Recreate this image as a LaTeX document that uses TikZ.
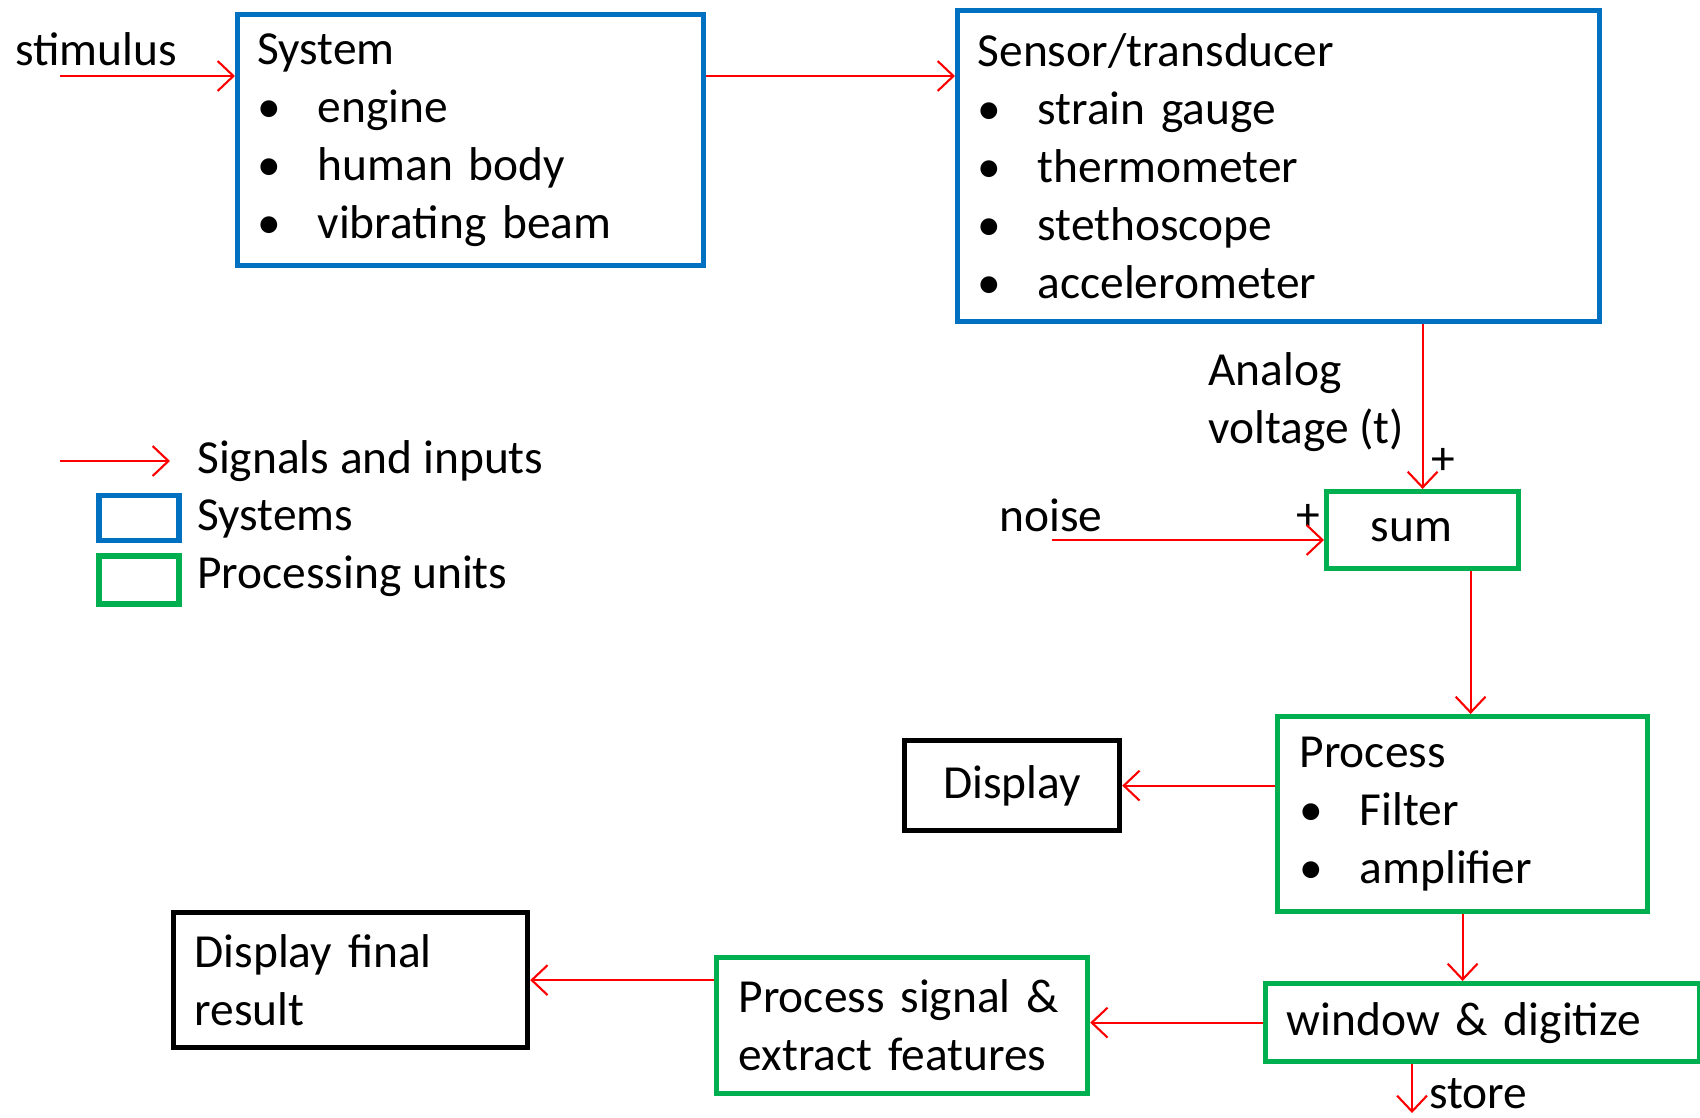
\documentclass[tikz,border=0pt]{standalone}
\usepackage{fontspec}
\setmainfont{Carlito}
\usepackage{xcolor}
\usetikzlibrary{arrows.meta}

\definecolor{sysblue}{RGB}{0,112,192}
\definecolor{procgreen}{RGB}{0,176,80}
\newcommand{\itm}[1]{\makebox[1.2cm][l]{\textbullet}#1}

\tikzset{
  sig/.style={red, line width=1.2pt, -{Straight Barb[length=9pt,width=17pt,line width=1.2pt]}},
  box/.style={line width=3pt, anchor=north west, align=left, inner xsep=0.4cm, inner ysep=0pt},
  sys/.style={box, draw=sysblue},
  proc/.style={box, draw=procgreen},
  outbox/.style={box, draw=black},
  word/.style={anchor=west, inner sep=0pt, align=left}
}

\begin{document}
\begin{tikzpicture}[x=0.02cm, y=-0.02cm, font=\fontsize{27}{33}\selectfont]
  \useasboundingbox (0,0) rectangle (1700,1118);
  % Systems
  \node[sys, minimum width=9.32cm, minimum height=5.02cm, text width=8.52cm] (system) at (235,12)
    {System\\ \itm{engine}\\ \itm{human body}\\ \itm{vibrating beam}};
  \node[sys, minimum width=12.84cm, minimum height=6.22cm, text width=12.04cm] (sensor) at (955,8)
    {Sensor/transducer\\ \itm{strain gauge}\\ \itm{thermometer}\\ \itm{stethoscope}\\ \itm{accelerometer}};
  % Processing units
  \node[proc, minimum width=3.84cm, minimum height=1.54cm, text width=2.08cm, inner xsep=0.88cm] (sum) at (1324,489) {sum};
  \node[proc, minimum width=7.4cm, minimum height=3.9cm, text width=6.52cm, inner xsep=0.44cm] (process) at (1275,714)
    {Process\\ \itm{Filter}\\ \itm{amplifier}};
  \node[proc, minimum width=8.68cm, minimum height=1.56cm, text width=7.84cm, inner xsep=0.42cm] (window) at (1263,981)
    {window \& digitize};
  \node[proc, minimum width=7.42cm, minimum height=2.72cm, text width=6.54cm, inner xsep=0.44cm] (features) at (714,955)
    {Process signal \&\\ extract features};
  % Outputs
  \node[outbox, minimum width=4.3cm, minimum height=1.8cm] (display) at (902,738) {Display};
  \node[outbox, minimum width=7.08cm, minimum height=2.7cm, text width=6.24cm, inner xsep=0.42cm] (result) at (171,910)
    {Display final\\ result};
  % Labels
  \node[word] (stimulus) at (15,49) {stimulus};
  \node[word] (analog) at (1208,402) {Analog\\ voltage (t)};
  \node[word] (noise) at (999,515) {noise};
  \node[word] (plustop) at (1431,461) {+};
  \node[word] (plusleft) at (1296,517) {+};
  \node[word] (store) at (1429,1094) {store};
  % Signals
  \coordinate (stimin) at (60,76);
  \coordinate (noisein) at (1052,540);
  \coordinate (storeout) at (1412,1113);
  \draw[sig] (stimin) -- (stimin -| system.west);
  \draw[sig] (stimin -| system.east) -- (stimin -| sensor.west);
  \draw[sig] (sum.north |- sensor.south) -- (sum.north);
  \draw[sig] (noisein) -- (noisein -| sum.west);
  \draw[sig] ([xshift=0.96cm]sum.south) -- ([xshift=0.96cm]sum.south |- process.north);
  \draw[sig] (process.west |- display.east) -- (display.east);
  \draw[sig] (process.south) -- (process.south |- window.north);
  \draw[sig] (window.west) -- (window.west -| features.east);
  \draw[sig] (features.west |- result.east) -- (result.east);
  \draw[sig] (storeout |- window.south) -- (storeout);
  % Legend
  \node[word] (siglabel) at (197,461) {Signals and inputs};
  \node[draw=sysblue, line width=3pt, minimum width=1.6cm, minimum height=0.9cm] (legsys) at (139,518) {};
  \node[word] (syslabel) at (197,519) {Systems};
  \node[draw=procgreen, line width=3pt, minimum width=1.6cm, minimum height=0.96cm] (legproc) at (139,580) {};
  \node[word] (proclabel) at (197,576) {Processing units};
  \coordinate (legstart) at (60,461);
  \draw[sig] (legstart) -- ([xshift=-0.54cm]siglabel.west);
\end{tikzpicture}
\end{document}
